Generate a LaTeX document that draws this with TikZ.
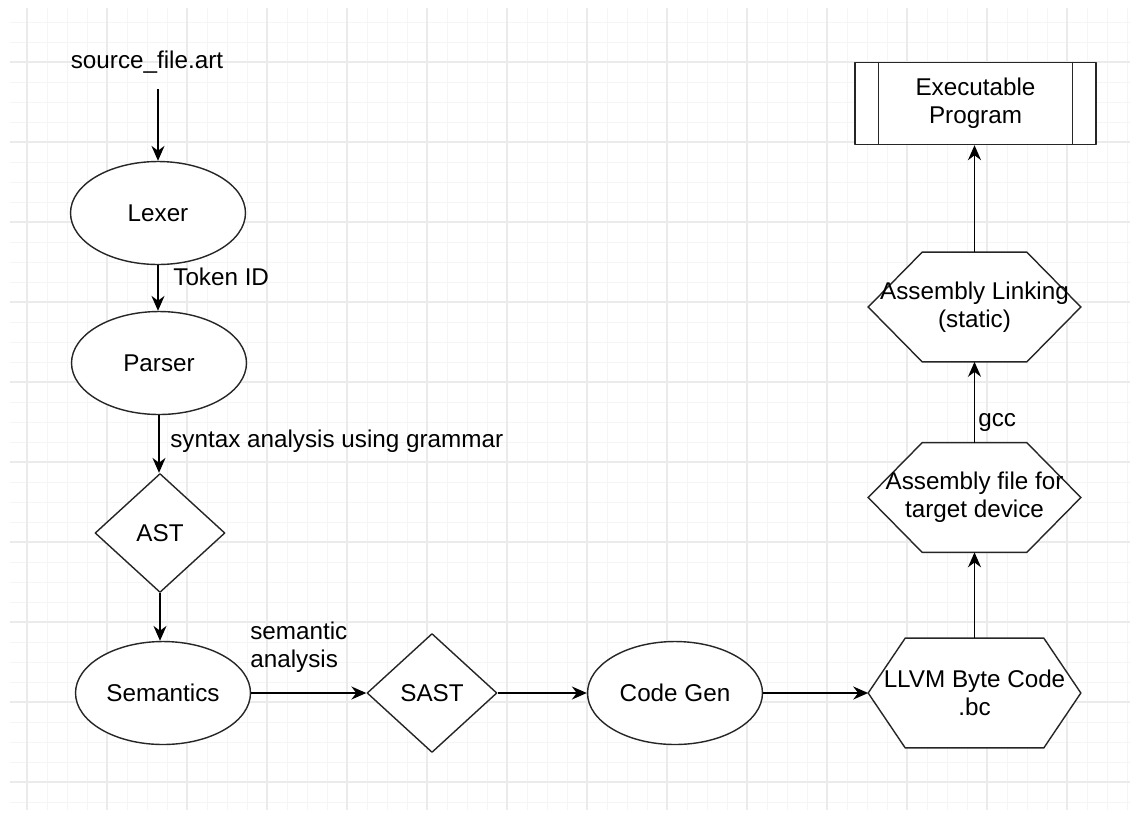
\documentclass[tikz,border=0pt]{standalone}
\usepackage{fontspec}
\setmainfont{Liberation Sans}
\usetikzlibrary{shapes.geometric,arrows.meta,backgrounds}
\tikzset{
  gridminor/.style={draw=black!4, line width=0.5pt},
  gridmajor/.style={draw=black!8, line width=0.6pt},
  shapeline/.style={draw=black!85, line width=0.8pt},
  ellnode/.style={shapeline, fill=white, ellipse, minimum width=3.5cm, minimum height=2.06cm, inner sep=0pt},
  diamnode/.style={shapeline, fill=white, diamond, minimum width=2.6cm, minimum height=2.38cm, inner sep=0pt},
  hexnode/.style={minimum width=4.24cm, minimum height=2.18cm, inner sep=0pt, align=center},
  procbox/.style={shapeline, fill=white, minimum width=4.82cm, minimum height=1.64cm, align=center},
  flow/.style={->, line width=1.05pt},
  lbl/.style={anchor=west, inner sep=0pt, align=left}
}
\begin{document}
\begin{tikzpicture}[x=0.02cm, y=-0.02cm, font=\fontsize{13.8}{15.8}\selectfont, line join=round, >={Stealth[length=8.5pt,width=7.4pt]}]
\useasboundingbox (0,0) rectangle (1139,816);
% background grid
\begin{pgfonlayer}{background}
\fill[white] (0,0) rectangle (1139,816);
\foreach \x in {27,47,...,1127} \draw[gridminor] (\x,8) -- (\x,810);
\foreach \y in {22,42,...,802} \draw[gridminor] (10,\y) -- (1130,\y);
\foreach \x in {27,107,...,1067} \draw[gridmajor] (\x,8) -- (\x,810);
\foreach \y in {62,142,...,782} \draw[gridmajor] (10,\y) -- (1130,\y);
\end{pgfonlayer}
% front end
\node (source) at (147,62) {source\_file.art};
\node[ellnode] (lexer) at (158,213) {Lexer};
\node[ellnode] (parser) at (159,363) {Parser};
\node[diamnode] (ast) at (160,533) {AST};
\node[ellnode] (semantics) at (163,693) {Semantics};
% bottom row
\node[diamnode] (sast) at (432,693) {SAST};
\node[ellnode] (codegen) at (675,693) {Code Gen};
\node[hexnode] (llvm) at (974.5,693) {LLVM Byte Code\\.bc};
% back end
\node[hexnode] (asmfile) at (974.5,497.5) {Assembly file for\\target device};
\node[hexnode] (asmlink) at (974.5,307) {Assembly Linking\\(static)};
\node[procbox] (exec) at (975.5,103.5) {Executable\\Program};
\draw[shapeline] ([xshift=0.48cm]exec.north west) -- ([xshift=0.48cm]exec.south west);
\draw[shapeline] ([xshift=-0.48cm]exec.north east) -- ([xshift=-0.48cm]exec.south east);
% hexagon outlines
\begin{pgfonlayer}{background}
\foreach \n/\d in {llvm/37, asmfile/54, asmlink/54}
\filldraw[shapeline, fill=white] (\n.west) -- ([xshift=\d*0.02cm]\n.north west) -- ([xshift=-\d*0.02cm]\n.north east) -- (\n.east)
  -- ([xshift=-\d*0.02cm]\n.south east) -- ([xshift=\d*0.02cm]\n.south west) -- cycle;
\end{pgfonlayer}
% connectors
\draw[flow] ([yshift=-0.2cm]source.south -| lexer.north) -- (lexer.north);
\draw[flow] (lexer.south) -- (lexer.south |- parser.north);
\draw[flow] (parser.south) -- (parser.south |- ast.north);
\draw[flow] (ast.south) -- (ast.south |- semantics.north);
\draw[flow] (semantics.east) -- (sast.west);
\draw[flow] (sast.east) -- (codegen.west);
\draw[flow] (codegen.east) -- (llvm.west);
\draw[flow] (llvm.north) -- (asmfile.south);
\draw[flow] (asmfile.north) -- (asmlink.south);
\draw[flow] (asmlink.north) -- (asmlink.north |- exec.south);
% connector labels
\node[lbl] (lbltoken) at (173,277) {Token ID};
\node[lbl] (lblsyntax) at (170,441) {syntax analysis using grammar};
\node[lbl] (lblsem) at (250,647) {semantic\\analysis};
\node[lbl] (lblgcc) at (978,422) {gcc};
\end{tikzpicture}
\end{document}
